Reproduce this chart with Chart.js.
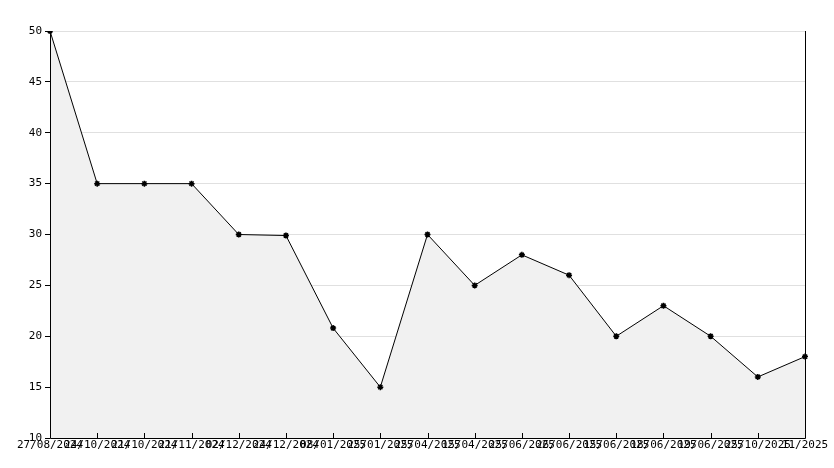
<!DOCTYPE html>
<html>
<head>
<meta charset="utf-8">
<script src="https://cdn.jsdelivr.net/npm/chart.js@4"></script>
<style>
html,body{margin:0;padding:0;background:#fff;}
#wrap{width:834px;height:468px;}
</style>
</head>
<body>
<div id="wrap"><canvas id="grafica"></canvas></div>
<script>
// datos
const fechas = ['27/08/2024','24/10/2024','21/10/2024','21/11/2024','02/12/2024','24/12/2024','08/01/2025','25/01/2025','25/04/2025','15/04/2025','25/06/2025','26/06/2025','15/06/2025','18/06/2025','19/06/2025','25/10/2025','11/2025'];
const valores = [50,35,35,35,30,29.9,20.8,15,30,25,28,26,20,23,20,16,18];
const ticksY = [10,15,20,25,30,35,40,45,50];

// ejes, marcas y etiquetas del eje x dibujadas a mano (se enciman como en el original)
const etiquetasX = {
	id:'etiquetasX',
	afterDraw(chart){
		const ctx = chart.ctx;
		const x = chart.scales.x;
		const a = chart.chartArea;
		ctx.save();
		ctx.strokeStyle = '#000';
		ctx.lineWidth = 1;
		ctx.beginPath();
		ctx.moveTo(a.left + 0.5, a.top);
		ctx.lineTo(a.left + 0.5, a.bottom + 0.5);
		ctx.lineTo(a.right + 0.5, a.bottom + 0.5);
		ctx.lineTo(a.right + 0.5, a.top);
		for (var i = 1; i < fechas.length - 1; i++) {
			var tx = Math.round(x.getPixelForValue(i)) + 0.5;
			ctx.moveTo(tx, a.bottom);
			ctx.lineTo(tx, a.bottom - 5);
		}
		ctx.stroke();
		ctx.fillStyle = '#000';
		ctx.font = '11px "DejaVu Sans Mono"';
		ctx.textAlign = 'center';
		ctx.textBaseline = 'top';
		for (var i = 0; i < fechas.length; i++) {
			var px = x.getPixelForValue(i);
			ctx.fillText(fechas[i], px, a.bottom + 2);
		}
		ctx.restore();
	}
};

const ctx = document.getElementById('grafica').getContext('2d');
new Chart(ctx, {
	type:'line',
	data:{
		labels:fechas,
		datasets:[{
			data:valores,
			borderColor:'#000',
			borderWidth:1,
			backgroundColor:'#f1f1f1',
			fill:'start',
			tension:0,
			pointStyle:'star',
			pointRadius:3,
			pointBorderColor:'#000',
			pointBackgroundColor:'#000',
			pointBorderWidth:1.5
		}]
	},
	options:{
		responsive:true,
		maintainAspectRatio:false,
		animation:false,
		layout:{padding:{top:31,right:29,left:0,bottom:0}},
		plugins:{legend:{display:false},tooltip:{enabled:false}},
		scales:{
			x:{
				offset:false,
				grid:{display:false},
				ticks:{display:false},
				afterFit(s){ s.height = 30; }
			},
			y:{
				min:10,max:50,
				afterBuildTicks(s){ s.ticks = ticksY.map(v => ({value:v})); },
				grid:{color:'#e0e0e0',tickColor:'#000',tickLength:5},
				ticks:{color:'#000',font:{family:'DejaVu Sans Mono',size:11},padding:3},
				afterFit(s){ s.width = 50; }
			}
		}
	},
	plugins:[etiquetasX]
});
</script>
</body>
</html>
